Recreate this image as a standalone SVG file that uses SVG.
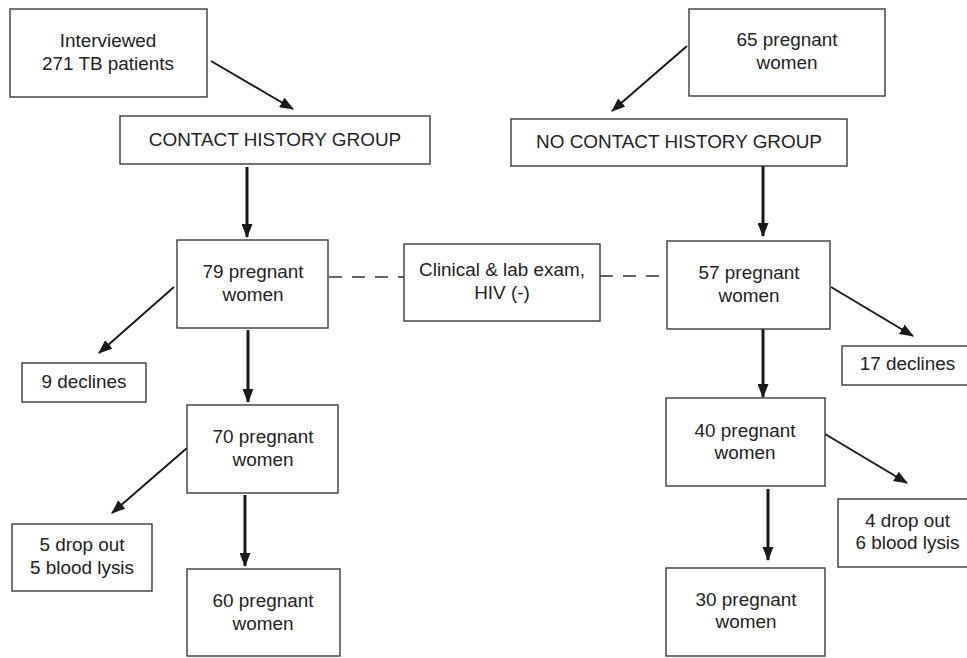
<svg xmlns="http://www.w3.org/2000/svg" width="967" height="658" viewBox="0 0 967 658">
<defs>
<marker id="ah" markerUnits="userSpaceOnUse" markerWidth="14" markerHeight="11" refX="13" refY="5.5" orient="auto" viewBox="0 0 14 11">
<path d="M0,0 L14,5.5 L0,11 z" fill="#1a1a1a"/>
</marker>
<style>
.box{fill:#fff;stroke:#3a3a3a;stroke-width:1.4}
.t{font-family:"Liberation Sans",Arial,Helvetica,sans-serif;font-size:18.9px;fill:#222;text-anchor:middle}
.c{stroke:#1a1a1a;stroke-width:2;fill:none;marker-end:url(#ah)}
.v{stroke-width:3}
.d{stroke:#333;stroke-width:1.4;stroke-dasharray:13 10;fill:none}
</style>
</defs>
<rect width="967" height="658" fill="#fff"/>
<g id="connectors">
<line class="c" x1="211" y1="61" x2="293" y2="109"/>
<line class="c" x1="687" y1="46" x2="612" y2="111"/>
<line class="c v" x1="247" y1="167" x2="247" y2="237"/>
<line class="c v" x1="763" y1="166" x2="763" y2="236"/>
<line class="c" x1="174" y1="287" x2="99" y2="353"/>
<line class="c v" x1="248" y1="330" x2="248" y2="402"/>
<line class="c" x1="831" y1="287" x2="913" y2="336"/>
<line class="c v" x1="763" y1="329" x2="763" y2="397"/>
<line class="c" x1="187" y1="448" x2="112" y2="513"/>
<line class="c v" x1="245" y1="495" x2="245" y2="566"/>
<line class="c" x1="825" y1="434" x2="907" y2="483"/>
<line class="c v" x1="768" y1="489" x2="768" y2="560"/>
<line class="d" x1="329" y1="277" x2="404" y2="277"/>
<line class="d" x1="600" y1="276" x2="667" y2="276"/>
</g>
<g id="interviewed">
<rect class="box" x="10" y="9" width="197" height="88"/>
<text class="t" x="108" y="47">Interviewed</text>
<text class="t" x="108" y="69.5">271 TB patients</text>
</g>
<g id="contact">
<rect class="box" x="120" y="116" width="310" height="48"/>
<text class="t" x="275" y="146">CONTACT HISTORY GROUP</text>
</g>
<g id="pregnant65">
<rect class="box" x="689" y="9" width="196" height="87"/>
<text class="t" x="787" y="46">65 pregnant</text>
<text class="t" x="787" y="69">women</text>
</g>
<g id="nocontact">
<rect class="box" x="511" y="119" width="336" height="47"/>
<text class="t" x="679" y="148">NO CONTACT HISTORY GROUP</text>
</g>
<g id="pregnant79">
<rect class="box" x="177" y="240" width="151" height="88"/>
<text class="t" x="253" y="278">79 pregnant</text>
<text class="t" x="253" y="301">women</text>
</g>
<g id="clinical">
<rect class="box" x="404" y="244" width="196" height="77"/>
<text class="t" x="502" y="276">Clinical &amp; lab exam,</text>
<text class="t" x="502" y="298.5">HIV (-)</text>
</g>
<g id="pregnant57">
<rect class="box" x="667" y="241" width="163" height="88"/>
<text class="t" x="749" y="279">57 pregnant</text>
<text class="t" x="749" y="302">women</text>
</g>
<g id="declines9">
<rect class="box" x="22" y="363" width="124" height="39"/>
<text class="t" x="84" y="388">9 declines</text>
</g>
<g id="declines17">
<rect class="box" x="842" y="346" width="126" height="39"/>
<text class="t" x="907.5" y="370">17 declines</text>
</g>
<g id="pregnant70">
<rect class="box" x="187" y="405" width="151" height="88"/>
<text class="t" x="263" y="443">70 pregnant</text>
<text class="t" x="263" y="465.5">women</text>
</g>
<g id="pregnant40">
<rect class="box" x="666" y="398" width="159" height="88"/>
<text class="t" x="745" y="436.5">40 pregnant</text>
<text class="t" x="745" y="458.5">women</text>
</g>
<g id="dropout5">
<rect class="box" x="12" y="524" width="140" height="67"/>
<text class="t" x="82" y="551">5 drop out</text>
<text class="t" x="82" y="574">5 blood lysis</text>
</g>
<g id="dropout4">
<rect class="box" x="838" y="499" width="131" height="68"/>
<text class="t" x="907.5" y="526.5">4 drop out</text>
<text class="t" x="907.5" y="549">6 blood lysis</text>
</g>
<g id="pregnant60">
<rect class="box" x="187" y="569" width="153" height="87"/>
<text class="t" x="263" y="607">60 pregnant</text>
<text class="t" x="263" y="629.5">women</text>
</g>
<g id="pregnant30">
<rect class="box" x="666" y="568" width="159" height="88"/>
<text class="t" x="746" y="606">30 pregnant</text>
<text class="t" x="746" y="628">women</text>
</g>
</svg>
